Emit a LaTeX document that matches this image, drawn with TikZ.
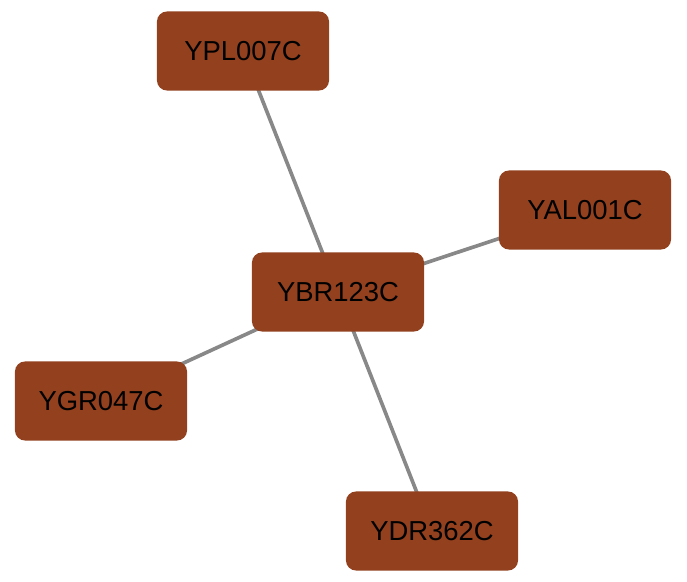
\documentclass[tikz,border=0pt]{standalone}
\usepackage{fontspec}
\setmainfont{Liberation Sans}
\usetikzlibrary{backgrounds}
\definecolor{geneBrown}{HTML}{92401E}
\definecolor{linkGray}{HTML}{888888}
\tikzstyle{gene}=[rectangle,rounded corners=0.25cm,fill=geneBrown,minimum width=4.3cm,minimum height=1.975cm,inner sep=0pt,font=\fontsize{19.5}{20}\selectfont]
\tikzstyle{link}=[draw=linkGray,line width=2.6pt]

\begin{document}
\begin{tikzpicture}[x=0.025cm,y=-0.025cm]
  \useasboundingbox (0,0) rectangle (687,582);
  \node[gene] (ybr) at (338,292) {YBR123C};
  \node[gene] (ypl) at (243,51)  {YPL007C};
  \node[gene] (yal) at (585,210) {YAL001C};
  \node[gene] (ygr) at (101,401) {YGR047C};
  \node[gene] (ydr) at (432,531) {YDR362C};

  \begin{pgfonlayer}{background}
  \path (ybr.center) edge[link] (ypl.center);
  \path (ybr.center) edge[link] (yal.center);
  \path (ybr.center) edge[link] (ygr.center);
  \path (ybr.center) edge[link] (ydr.center);
  \end{pgfonlayer}
\end{tikzpicture}
\end{document}
